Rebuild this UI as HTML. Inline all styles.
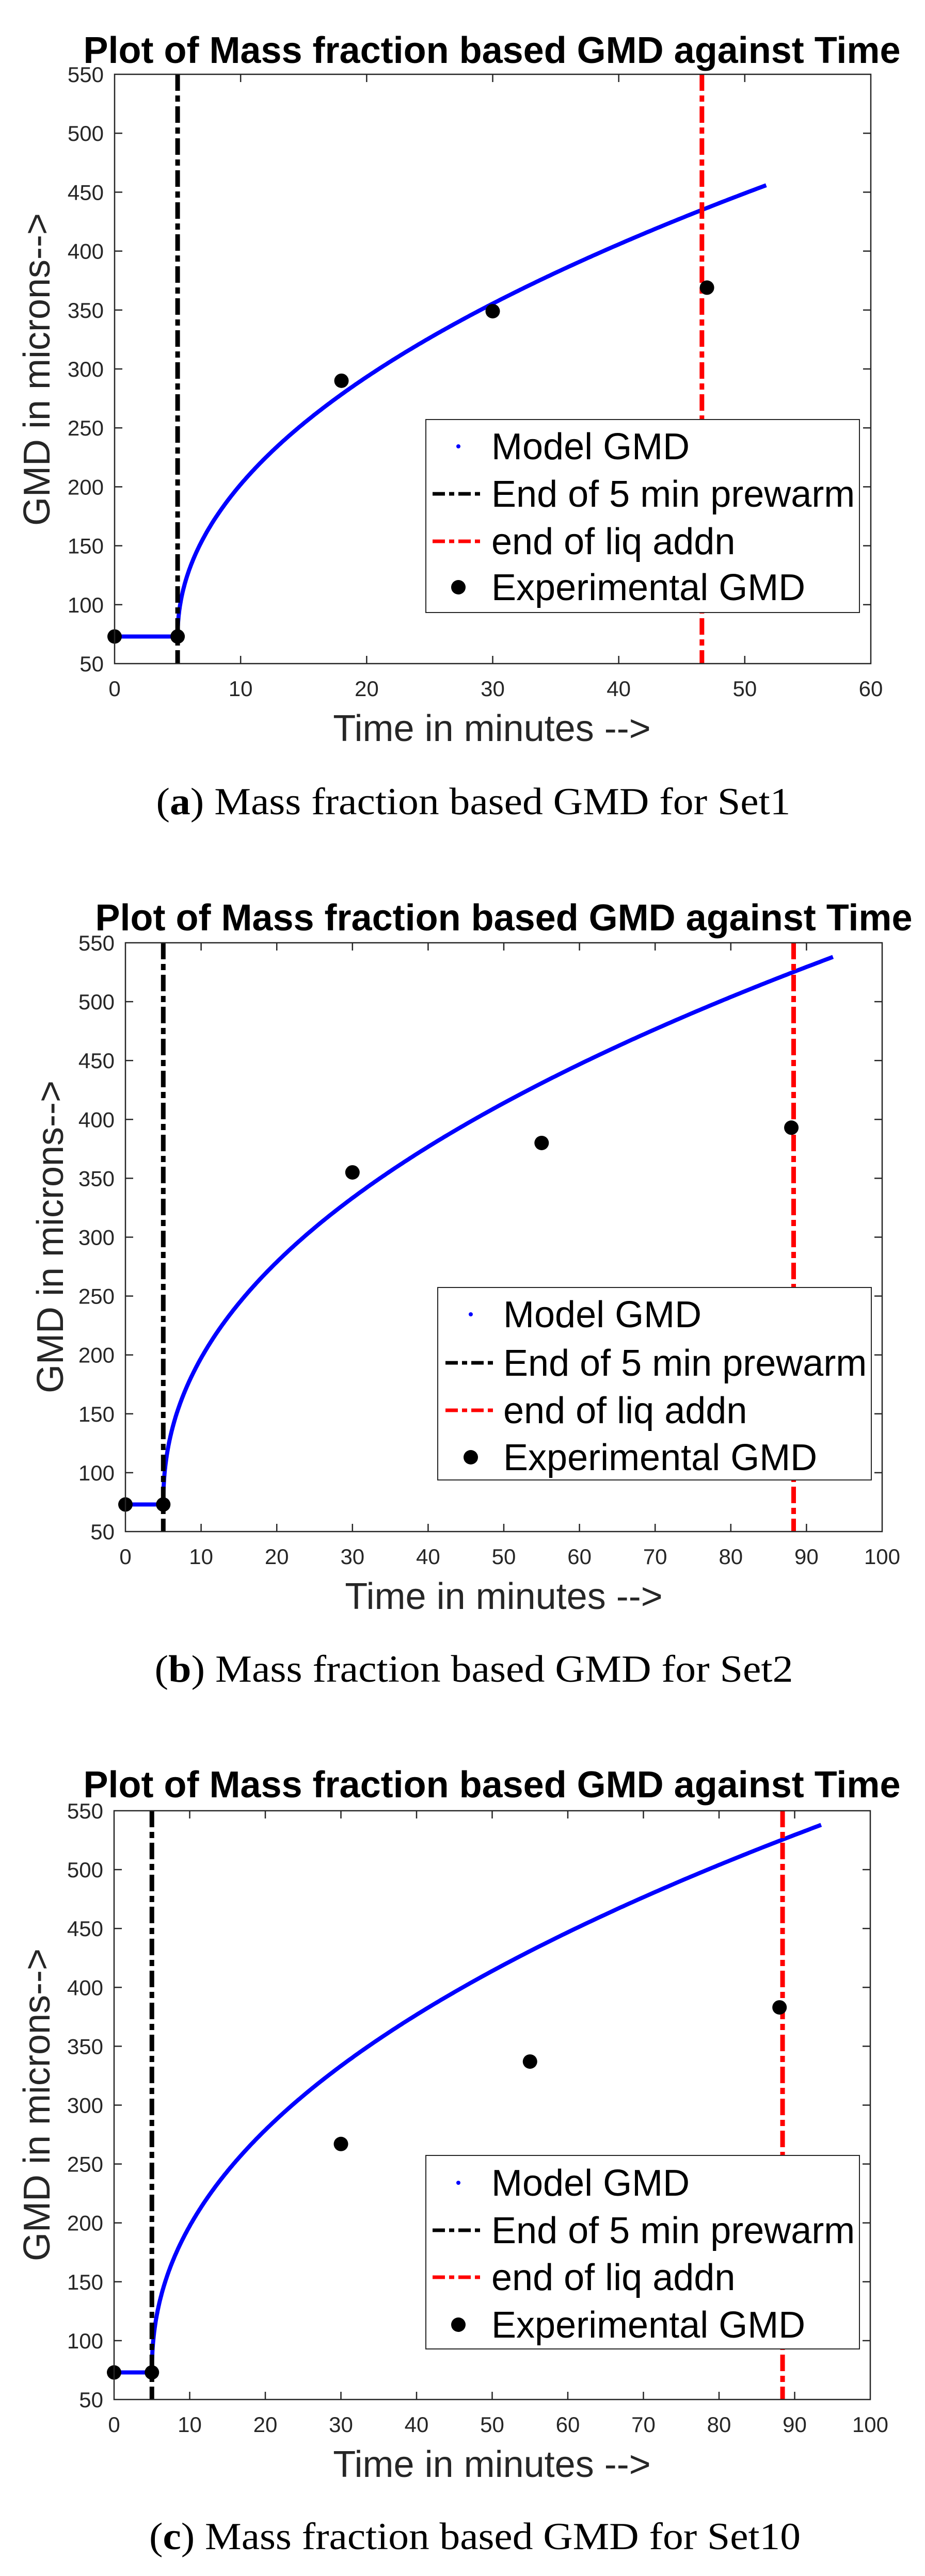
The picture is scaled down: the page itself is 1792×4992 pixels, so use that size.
<!DOCTYPE html>
<html><head><meta charset="utf-8"><style>
html,body{margin:0;padding:0;background:#fff;}
svg{display:block;}
.t{font-family:"Liberation Sans",Arial,sans-serif;}
</style></head><body>
<svg id="s" width="1792" height="4992" viewBox="0 0 1792 4992" xmlns="http://www.w3.org/2000/svg">
<rect width="1792" height="4992" fill="#fff"/>
</svg>
<script>
const NS="http://www.w3.org/2000/svg";
const svg=document.getElementById('s');
function el(n,a,txt){const e=document.createElementNS(NS,n);for(const k in a)e.setAttribute(k,a[k]);if(txt!==undefined)e.textContent=txt;svg.appendChild(e);return e;}
function plot(p){
  const L=p.L,R=p.R,T=p.T,B=p.B,xmax=p.xmax;
  const X=t=>L+(R-L)*t/xmax, Y=v=>B-(B-T)*(v-50)/500;
  el('text',{x:p.tc,y:p.tb,'text-anchor':'middle','font-size':72,'font-weight':'bold',class:'t',fill:'#000'},'Plot of Mass fraction based GMD against Time');
  for(let v=50;v<=550;v+=50){
    const y=Y(v);
    el('text',{x:L-21,y:y+15,'text-anchor':'end','font-size':42,class:'t',fill:'#262626'},String(v));
    if(v>50&&v<550){el('line',{x1:L,y1:y,x2:L+15,y2:y,stroke:'#262626','stroke-width':2.5});el('line',{x1:R,y1:y,x2:R-15,y2:y,stroke:'#262626','stroke-width':2.5});}
  }
  for(let t=0;t<=xmax;t+=10){
    const x=X(t);
    el('text',{x:x,y:B+63,'text-anchor':'middle','font-size':42,class:'t',fill:'#262626'},String(t));
    if(t>0&&t<xmax){el('line',{x1:x,y1:B,x2:x,y2:B-15,stroke:'#262626','stroke-width':2.5});el('line',{x1:x,y1:T,x2:x,y2:T+15,stroke:'#262626','stroke-width':2.5});}
  }
  let d='M'+X(0)+' '+Y(73)+' L'+X(5)+' '+Y(73);
  const N=400;
  for(let i=0;i<=N;i++){
    const t=5+(p.tend-5)*Math.pow(i/N,2);
    const v=73+p.a*Math.pow(t-5,p.pw);
    d+=' L'+X(t).toFixed(1)+' '+Y(v).toFixed(1);
  }
  el('path',{d:d,fill:'none',stroke:'#0000ff','stroke-width':8,'stroke-linejoin':'round'});
  el('line',{x1:X(5),y1:T,x2:X(5),y2:B,stroke:'#000','stroke-width':9,'stroke-dasharray':'32 9 12 9'});
  el('line',{x1:X(p.red),y1:T,x2:X(p.red),y2:B,stroke:'#ff0000','stroke-width':9,'stroke-dasharray':'32 9 12 9'});
  for(const [t,v] of p.pts){el('circle',{cx:X(t),cy:Y(v),r:14,fill:'#000'});}
  el('rect',{x:L,y:T,width:R-L,height:B-T,fill:'none',stroke:'#262626','stroke-width':2.5});
  const g=p.lg;
  el('rect',{x:g.x1,y:g.y1,width:g.x2-g.x1,height:g.y2-g.y1,fill:'#fff',stroke:'#262626','stroke-width':2});
  const labels=['Model GMD','End of 5 min prewarm','end of liq addn','Experimental GMD'];
  for(let i=0;i<4;i++){
    el('text',{x:g.tx,y:g.b[i],'font-size':72,class:'t',fill:'#000'},labels[i]);
  }
  const cy=i=>g.b[i]-25;
  el('circle',{cx:g.dx,cy:cy(0),r:4,fill:'#0000ff'});
  el('line',{x1:g.lx1,y1:cy(1),x2:g.lx2,y2:cy(1),stroke:'#000','stroke-width':7,'stroke-dasharray':'24 8 10 8'});
  el('line',{x1:g.lx1,y1:cy(2),x2:g.lx2,y2:cy(2),stroke:'#ff0000','stroke-width':7,'stroke-dasharray':'24 8 10 8'});
  el('circle',{cx:g.dx,cy:cy(3),r:14,fill:'#000'});
  el('text',{x:p.xlc,y:p.xlb,'text-anchor':'middle','font-size':72,class:'t',fill:'#262626'},'Time in minutes -->');
  el('text',{x:0,y:0,'text-anchor':'middle','font-size':72,class:'t',fill:'#262626',transform:'translate('+(p.ylx+25)+','+p.ylc+') rotate(-90)'},'GMD in microns-->');
  const c=el('text',{x:p.cc,y:p.cb,'text-anchor':'middle','font-size':74,'font-family':'"Liberation Serif",serif',fill:'#000',textLength:p.cw,lengthAdjust:'spacingAndGlyphs'});
  const t1=document.createElementNS(NS,'tspan');t1.textContent='(';c.appendChild(t1);
  const t2=document.createElementNS(NS,'tspan');t2.setAttribute('font-weight','bold');t2.textContent=p.letter;c.appendChild(t2);
  const t3=document.createElementNS(NS,'tspan');t3.textContent=') Mass fraction based GMD for '+p.set;c.appendChild(t3);
}
plot({L:222,R:1687,T:144,B:1286,xmax:60,tc:953,tb:122,tend:51.7,a:58.9,pw:0.487,red:46.6,
 pts:[[0,73],[5,73],[18,290],[30,349],[47,369]],
 lg:{x1:825,y1:813,x2:1665,y2:1187,tx:952,b:[890,982,1074,1163],dx:888,lx1:838,lx2:937},
 xlc:953,xlb:1436,ylx:71,ylc:716,cc:917,cb:1578,cw:1229,letter:'a',set:'Set1'});
plot({L:243,R:1709,T:1827,B:2968,xmax:100,tc:976,tb:1803,tend:93.5,a:59.4,pw:0.459,red:88.3,
 pts:[[0,73],[5,73],[30,355],[55,380],[88,393]],
 lg:{x1:848,y1:2495,x2:1688,y2:2868,tx:975,b:[2572,2666,2758,2849],dx:912,lx1:863,lx2:958},
 xlc:976,xlb:3118,ylx:97,ylc:2397,cc:918,cb:3259,cw:1237,letter:'b',set:'Set2'});
plot({L:221,R:1686,T:3509,B:4650,xmax:100,tc:953,tb:3483,tend:93.5,a:59.4,pw:0.459,red:88.4,
 pts:[[0,73],[5,73],[30,267],[55,337],[88,383]],
 lg:{x1:825,y1:4177,x2:1665,y2:4552,tx:952,b:[4255,4347,4438,4530],dx:888,lx1:838,lx2:937},
 xlc:953,xlb:4800,ylx:71,ylc:4079,cc:920,cb:4940,cw:1262,letter:'c',set:'Set10'});
</script>
</body></html>
